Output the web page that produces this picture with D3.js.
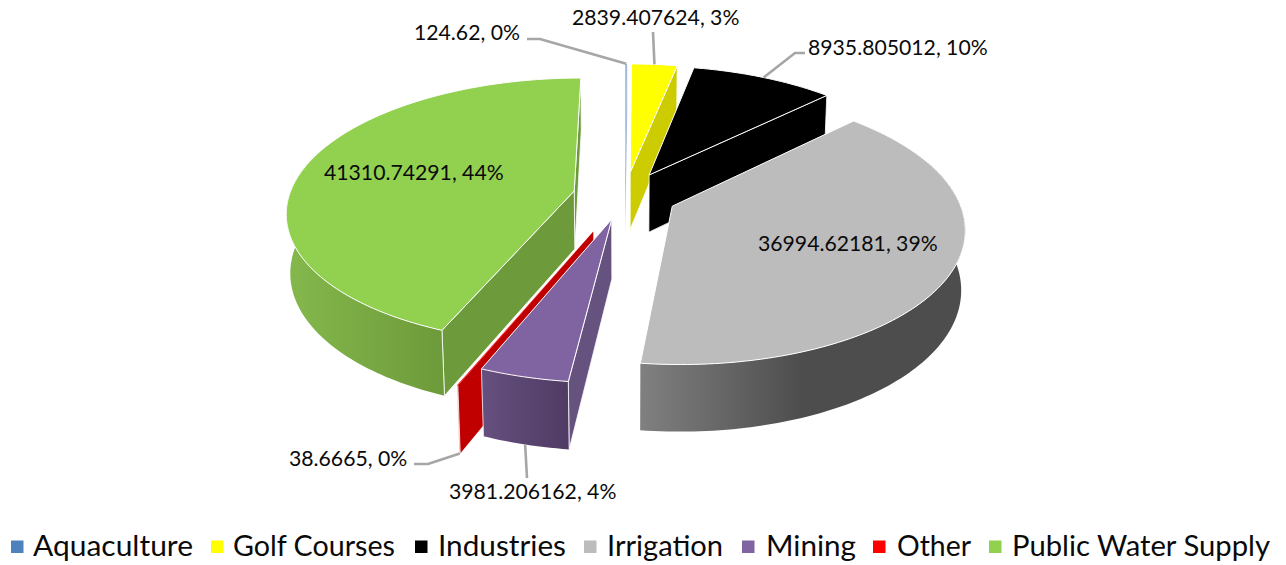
<!DOCTYPE html>
<html>
<head>
<meta charset="utf-8">
<script src="https://cdn.jsdelivr.net/npm/d3@7/dist/d3.min.js"></script>
<style>
html,body{margin:0;padding:0;background:#fff;overflow:hidden}
text{font-family:Lato,"Open Sans",sans-serif;fill:#0a0a0a}
</style>
</head>
<body>
<svg id="c" width="1286" height="565"></svg>
<script>
const categories = ["Aquaculture","Golf Courses","Industries","Irrigation","Mining","Other","Public Water Supply"];
const values = [124.62,2839.407624,8935.805012,36994.62181,3981.206162,38.6665,41310.74291];
const percents = [0,3,10,39,4,0,44];
const topColors = ["#4f81bd","#ffff00","#000000","#bcbcbc","#8064a2","#ff0000","#92d050"];
const sideColors = ["#9db8dc","#cccc00","#000000","#4d4d4d","#66527f","#c00000","#6d9a3a"];
const wallStart = ["#4f81bd","#cccc00","#000000","#808080","#65507f","#c00000","#84b84c"];
const wallEnd = ["#3f6797","#cccc00","#000000","#4d4d4d","#4f3b63","#c00000","#6d9a3a"];
const drawOrder = ["Aquaculture","Golf Courses","Public Water Supply","Industries","Other","Mining","Irrigation"];

// layout
const view = {cx:625, cy:195.5, R:285, k:0.46, depth:59, persp:0.15, perspZ:0.0002};
const explodeBy = {"Aquaculture":52,"Golf Courses":52,"Industries":52,"Irrigation":52,"Mining":52,"Other":81,"Public Water Supply":52};
const labelLayout = {
  "Aquaculture":{x:414,y:40,elbow:[[540,39],[527,39]]},
  "Golf Courses":{x:572,y:25,elbow:[[653,32]]},
  "Industries":{x:808,y:55,elbow:[[795,53],[805,53]]},
  "Irrigation":{x:758,y:251},
  "Mining":{x:449,y:499,elbow:[[527,478]]},
  "Other":{x:289,y:466,elbow:[[428,464],[414,464]]},
  "Public Water Supply":{x:324,y:180}
};
const legendX = [11,211,415,584,742,873,989];
const legendTextX = [33,233,438,607,766,897,1012];
const legendTextW = [160,162,128,116,90,74,258];

const svg = d3.select("#c");
const color = d3.scaleOrdinal(categories, topColors);
const side = d3.scaleOrdinal(categories, sideColors);
const pie = d3.pie().sort(null).startAngle(0).endAngle(2*Math.PI);
const arcs = pie(values).map((d,i)=>({...d,name:categories[i],i}));

function project(X,Y,Z){
  const s = 1/(1 - view.persp*Y/view.R + view.perspZ*Z);
  return [view.cx + X*s, view.cy + (Y*view.k + Z)*s];
}
function rimPoint(a,ex,Z){
  const X = view.R*Math.sin(a) + ex[0], Y = -view.R*Math.cos(a) + ex[1];
  return project(X,Y,Z);
}
function offset(d){
  const m=(d.startAngle+d.endAngle)/2, e=explodeBy[d.name];
  return [e*Math.sin(m), -e*Math.cos(m)];
}
function area(p){let s=0;p.forEach((a,i)=>{const b=p[(i+1)%p.length];s+=a[0]*b[1]-b[0]*a[1];});return s/2;}
const line = d3.line().curve(d3.curveLinear);
const closed = pts => line(pts)+"Z";

const defs = svg.append("defs");
arcs.forEach((d,i)=>{
  const g = defs.append("linearGradient").attr("id","w"+i);
  g.append("stop").attr("offset","0%").attr("stop-color",wallStart[i]);
  g.append("stop").attr("offset",d.name==="Irrigation"?"50%":"100%").attr("stop-color",wallEnd[i]);
});

const byName = new Map(arcs.map(d=>[d.name,d]));
const pieG = svg.append("g");
drawOrder.map(n=>byName.get(n)).forEach(d=>{
  const g = pieG.append("g");
  const ex = offset(d);
  const a0=d.startAngle,a1=d.endAngle;
  const n = Math.max(2,Math.ceil((a1-a0)/0.02));
  const angles = d3.range(n+1).map(j=>a0+(a1-a0)*j/n);
  const apexT = project(ex[0],ex[1],0), apexB = project(ex[0],ex[1],view.depth);
  const thin = d.name==="Aquaculture";

  // radial faces
  const startFace=[apexT,rimPoint(a0,ex,0),rimPoint(a0,ex,view.depth),apexB];
  const endFace=[apexT,rimPoint(a1,ex,0),rimPoint(a1,ex,view.depth),apexB];
  const faces=[];
  if(area(endFace)>0) faces.push(endFace);
  if(area(startFace)<0) faces.push(startFace);
  faces.forEach(f=>g.append("path").attr("d",closed(f)).attr("fill",side(d.name))
     .attr("stroke",(d.name==="Other"||thin)?"none":"#fff").attr("stroke-width",0.8));

  // outer wall, only the part turned to the viewer
  const vis = angles.filter(t=>t>1.2&&t<5.1);
  if(vis.length>1){
    const pts = vis.map(t=>rimPoint(t,ex,0)).concat(vis.slice().reverse().map(t=>rimPoint(t,ex,view.depth)));
    g.append("path").attr("d",closed(pts)).attr("fill",`url(#w${d.i})`);
    if(d.name!=="Irrigation"){
      [vis[0],vis[vis.length-1]].forEach(t=>{
        if(Math.abs(t-a0)<1e-6||Math.abs(t-a1)<1e-6)
          g.append("path").attr("d",line([rimPoint(t,ex,0),rimPoint(t,ex,view.depth)])).attr("stroke","#fff").attr("stroke-width",0.8).attr("fill","none");
      });
    }
  }
  // top face
  const top=[apexT].concat(angles.map(t=>rimPoint(t,ex,0)));
  g.append("path").attr("d",closed(top)).attr("fill",color(d.name))
    .attr("fill-opacity",thin?0.55:1)
    .attr("stroke",(d.name==="Other"||thin)?"none":"#fff").attr("stroke-width",1);
});

// leader lines and labels
const labelG = svg.append("g");
arcs.forEach(d=>{
  const L = labelLayout[d.name];
  if(L.elbow){
    const m=(d.startAngle+d.endAngle)/2, ex=offset(d);
    const front = Math.cos(m)<0;
    const start = rimPoint(m,ex,front?view.depth:0);
    labelG.append("path").attr("d",line([start,...L.elbow])).attr("fill","none")
      .attr("stroke","#a6a6a6").attr("stroke-width",2.6);
  }
  labelG.append("text").attr("x",L.x).attr("y",L.y).attr("font-size",21.2)
    .text(`${d.value}, ${percents[d.i]}%`);
});

// legend
const leg = svg.append("g");
categories.forEach((c,i)=>{
  leg.append("rect").attr("x",legendX[i]).attr("y",540.5).attr("width",12.5).attr("height",12.5).attr("fill",color(c));
  leg.append("text").attr("x",legendTextX[i]).attr("y",556).attr("font-size",29.5)
    .attr("textLength",legendTextW[i]).attr("lengthAdjust","spacingAndGlyphs").text(c);
});
</script>
</body>
</html>
